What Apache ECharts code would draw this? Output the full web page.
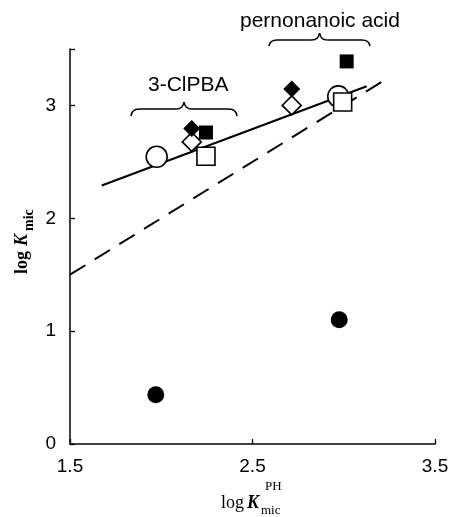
<!DOCTYPE html>
<html>
<head>
<meta charset="utf-8">
<script src="https://cdn.jsdelivr.net/npm/echarts@6/dist/echarts.min.js"></script>
<style>
  html, body { margin: 0; padding: 0; background: #fff; }
  #chart { width: 452px; height: 517px; }
</style>
</head>
<body>
<div id="chart"></div>
<script>
// data: [log K_mic^PH, log K_mic]
const openCircle = [[1.975, 2.545], [2.97, 3.08]]
const filledCircle = [[1.97, 0.436], [2.975, 1.10]]
const openSquare = [[2.245, 2.55], [2.994, 3.03]]
const filledSquare = [[2.245, 2.76], [3.016, 3.39]]
const openDiamond = [[2.167, 2.677], [2.715, 3.0]]
const filledDiamond = [[2.167, 2.796], [2.715, 3.146]]
const fitLine = [[1.674, 2.29], [3.126, 3.17]]
const identityLine = [[1.5, 1.5], [3.235, 3.235]]
const xTicks = [1.5, 2.5, 3.5]
const yLabels = [0, 1, 2, 3]
const yTicks = [0, 1, 2, 3, 3.5]

const serif = '"Liberation Serif", "DejaVu Serif", serif'
const sans = '"Liberation Sans", Arial, sans-serif'

const chart = echarts.init(document.getElementById('chart'))

function pts(name, data, symbol, size, filled) {
    return {
        name: name,
        type: 'scatter',
        data: data,
        symbol: symbol,
        symbolSize: size,
        z: filled ? 5 : 4,
        itemStyle: {
            color: filled ? '#000' : '#fff',
            borderColor: '#000',
            borderWidth: filled ? 0 : 1.6,
            opacity: 1
        }
    }
}

// curly brace opening downward, tip pointing up
function brace(x0, x1, yEnd, yBar, yTip) {
    const xm = (x0 + x1) / 2
    const r = 8
    const st = { stroke: '#000', lineWidth: 1.6, fill: 'none' }
    const q = (ax, ay, bx, by, cx, cy) => ({
        type: 'bezierCurve', shape: { x1: ax, y1: ay, x2: bx, y2: by, cpx1: cx, cpy1: cy }, style: st
    })
    const l = (ax, ay, bx, by) => ({ type: 'line', shape: { x1: ax, y1: ay, x2: bx, y2: by }, style: st })
    return {
        type: 'group',
        children: [
            q(x0, yEnd, x0 + r, yBar, x0 + 1, yBar),
            l(x0 + r, yBar, xm - r, yBar),
            q(xm - r, yBar, xm, yTip, xm - 1, yBar),
            q(xm, yTip, xm + r, yBar, xm + 1, yBar),
            l(xm + r, yBar, x1 - r, yBar),
            q(x1 - r, yBar, x1, yEnd, x1 - 1, yBar)
        ]
    }
}

chart.setOption({
    animation: false,
    grid: { left: 70, right: 17, top: 49, bottom: 73 },
    xAxis: {
        type: 'value',
        min: 1.5,
        max: 3.5,
        interval: 0.5,
        splitLine: { show: false },
        axisLine: { onZero: false, lineStyle: { color: '#000', width: 1.5 } },
        axisTick: { inside: true, length: 5, customValues: xTicks, lineStyle: { color: '#000', width: 1.3 } },
        axisLabel: { customValues: xTicks, color: '#000', fontFamily: sans, fontSize: 19, margin: 13 }
    },
    yAxis: {
        type: 'value',
        min: 0,
        max: 3.5,
        interval: 0.5,
        splitLine: { show: false },
        axisLine: { onZero: false, lineStyle: { color: '#000', width: 1.5 } },
        axisTick: { inside: true, length: 5, customValues: yTicks, lineStyle: { color: '#000', width: 1.3 } },
        axisLabel: { customValues: yLabels, color: '#000', fontFamily: sans, fontSize: 19, margin: 14 }
    },
    series: [
        {
            type: 'line',
            data: identityLine,
            symbol: 'none',
            z: 2,
            lineStyle: { color: '#000', width: 2, type: [18, 11] }
        },
        {
            type: 'line',
            data: fitLine,
            symbol: 'none',
            z: 2,
            lineStyle: { color: '#000', width: 2 }
        },
        pts('open circle', openCircle, 'circle', 21, false),
        pts('open diamond', openDiamond, 'diamond', 19, false),
        pts('open square', openSquare, 'rect', 18, false),
        pts('filled circle', filledCircle, 'circle', 17, true),
        pts('filled square', filledSquare, 'rect', 14, true),
        pts('filled diamond', filledDiamond, 'diamond', 17, true)
    ],
    graphic: [
        // x axis title
        { type: 'text', x: 221, y: 494, style: { text: 'log', font: '18px ' + serif, fill: '#000' } },
        { type: 'text', x: 247, y: 494, style: { text: 'K', font: 'italic bold 18px ' + serif, fill: '#000' } },
        { type: 'text', x: 261, y: 504, style: { text: 'mic', font: '13px ' + serif, fill: '#000' } },
        { type: 'text', x: 265, y: 480, style: { text: 'PH', font: '13px ' + serif, fill: '#000' } },
        // y axis title, rotated
        {
            type: 'group',
            x: 13,
            y: 274,
            rotation: Math.PI / 2,
            children: [
                { type: 'text', x: 0, y: 0, style: { text: 'log', font: 'bold 18px ' + serif, fill: '#000' } },
                { type: 'text', x: 28, y: 0, style: { text: 'K', font: 'italic bold 18px ' + serif, fill: '#000' } },
                { type: 'text', x: 43, y: 9, style: { text: 'mic', font: 'bold 14px ' + serif, fill: '#000' } }
            ]
        },
        // group labels and braces
        { type: 'text', x: 148, y: 75, style: { text: '3-ClPBA', font: '21px ' + sans, fill: '#000' } },
        brace(131, 237, 116, 109, 102),
        { type: 'text', x: 240, y: 11, style: { text: 'pernonanoic acid', font: '21px ' + sans, fill: '#000' } },
        brace(269, 370, 46, 40, 33)
    ]
})
</script>
</body>
</html>
